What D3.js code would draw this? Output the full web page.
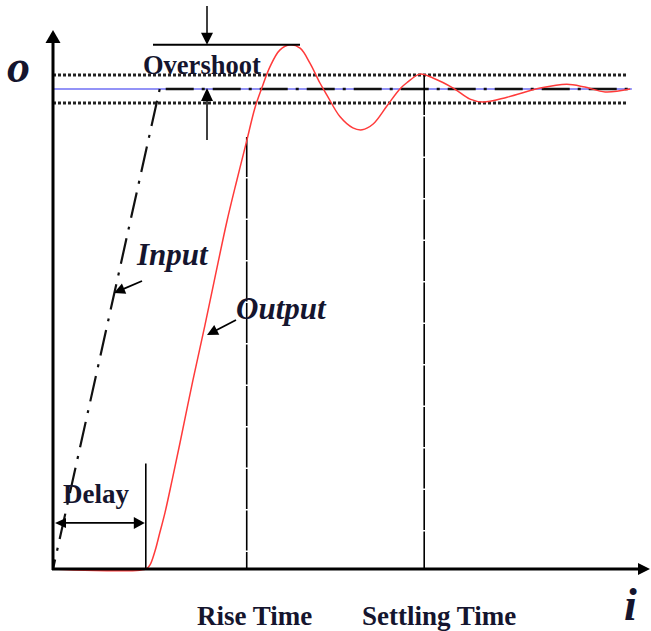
<!DOCTYPE html>
<html>
<head>
<meta charset="utf-8">
<script src="https://cdn.jsdelivr.net/npm/d3@7"></script>
<style>
  html, body { margin: 0; padding: 0; background: #ffffff; }
  svg { display: block; }
  .lbl { font-family: "Liberation Serif", "Times New Roman", serif; font-weight: bold; fill: #15152e; }
  .it { font-style: italic; }
</style>
</head>
<body>
<svg id="chart" width="651" height="631"></svg>
<script>
// Step response: time (arbitrary units) and normalised output value
const outputTime  = [0, 1.60, 1.67, 1.76, 1.84, 1.93, 2.05, 2.19, 2.41, 2.62, 2.79, 3.00, 3.17, 3.34, 3.48, 3.60, 3.74, 3.91, 4.09, 4.26, 4.43, 4.60, 4.72, 4.95, 5.17, 5.33, 5.52, 5.76, 5.98, 6.10, 6.33, 6.55, 6.90, 7.19, 7.41, 7.83, 8.40, 8.86, 9.17, 9.52, 9.95];
const outputValue = [0, 0, 0.008, 0.038, 0.075, 0.117, 0.183, 0.263, 0.392, 0.508, 0.606, 0.725, 0.810, 0.892, 0.960, 1.002, 1.046, 1.081, 1.092, 1.085, 1.054, 1.013, 0.988, 0.942, 0.919, 0.915, 0.927, 0.965, 1.000, 1.013, 1.031, 1.023, 1.002, 0.979, 0.973, 0.983, 1.002, 1.010, 1.004, 0.994, 1.000];

// Input: ramp to the set point, then held
const inputTime  = [0, 1.84, 9.95];
const inputValue = [0, 1.0, 1.0];

// Set point, tolerance band and timing markers
const setPoint = 1.0;
const bandHalfWidth = 0.029;
const peakValue = 1.092;
const delayTime = 1.60;
const riseTime = 3.34;
const riseLevel = 0.9;
const settlingTime = 6.40;
const timeEnd = 9.98;
const bandEnd = 9.91;

const svg = d3.select("#chart");
const x = d3.scaleLinear().domain([0, 10]).range([53, 633]);
const y = d3.scaleLinear().domain([0, 1]).range([569, 89]);

function arrowHead(g, x1, y1, x2, y2, len, half) {
  const a = Math.atan2(y2 - y1, x2 - x1);
  const bx = x2 - len * Math.cos(a), by = y2 - len * Math.sin(a);
  const px = -Math.sin(a) * half, py = Math.cos(a) * half;
  g.append("path")
    .attr("d", `M${x2},${y2}L${bx + px},${by + py}L${bx - px},${by - py}Z`)
    .attr("fill", "#000");
}
function arrow(g, x1, y1, x2, y2, w, len, half) {
  const a = Math.atan2(y2 - y1, x2 - x1);
  g.append("line")
    .attr("x1", x1).attr("y1", y1)
    .attr("x2", x2 - len * 0.6 * Math.cos(a)).attr("y2", y2 - len * 0.6 * Math.sin(a))
    .attr("stroke", "#000").attr("stroke-width", w);
  arrowHead(g, x1, y1, x2, y2, len, half);
}

const g = svg.append("g");

// Tolerance band (dotted)
[setPoint + bandHalfWidth, setPoint - bandHalfWidth].forEach(v => {
  g.append("line")
    .attr("x1", x(0)).attr("x2", x(bandEnd))
    .attr("y1", y(v)).attr("y2", y(v))
    .attr("stroke", "#222").attr("stroke-width", 3)
    .attr("stroke-dasharray", "3,2");
});

// Set point (blue)
g.append("line")
  .attr("x1", x(0)).attr("x2", x(timeEnd))
  .attr("y1", y(setPoint)).attr("y2", y(setPoint))
  .attr("stroke", "#6f6ff5").attr("stroke-width", 1.6);

// Input: dash-dot ramp and hold
g.append("line")
  .attr("x1", x(inputTime[1])).attr("y1", y(inputValue[1]))
  .attr("x2", x(inputTime[0])).attr("y2", y(inputValue[0]))
  .attr("stroke", "#111").attr("stroke-width", 2.2)
  .attr("stroke-dasharray", "3,9,26,9");
g.append("line")
  .attr("x1", x(inputTime[1]) + 6).attr("y1", y(inputValue[1]))
  .attr("x2", x(inputTime[2])).attr("y2", y(inputValue[2]))
  .attr("stroke", "#111").attr("stroke-width", 2.6)
  .attr("stroke-dasharray", "28,8,3,8");

// Timing markers
g.append("line")
  .attr("x1", x(riseTime)).attr("x2", x(riseTime))
  .attr("y1", y(riseLevel)).attr("y2", y(0))
  .attr("stroke", "#000").attr("stroke-width", 1.6)
  .attr("stroke-dasharray", "40,1.5");
g.append("line")
  .attr("x1", x(settlingTime)).attr("x2", x(settlingTime))
  .attr("y1", y(setPoint + bandHalfWidth)).attr("y2", y(0))
  .attr("stroke", "#000").attr("stroke-width", 1.6)
  .attr("stroke-dasharray", "40,1.5");
g.append("line")
  .attr("x1", x(delayTime)).attr("x2", x(delayTime))
  .attr("y1", y(0.22)).attr("y2", y(0))
  .attr("stroke", "#000").attr("stroke-width", 1.6);

// Output response (red)
const pts = outputTime.map((t, i) => [t, outputValue[i]]);
g.append("path")
  .datum(pts)
  .attr("fill", "none")
  .attr("stroke", "#ff3a3a")
  .attr("stroke-width", 1.5)
  .attr("d", d3.line().x(d => x(d[0])).y(d => y(d[1])).curve(d3.curveCatmullRom.alpha(0.5)));

// Axes
g.append("line").attr("x1", 53).attr("x2", 53).attr("y1", 40).attr("y2", 570)
  .attr("stroke", "#000").attr("stroke-width", 3);
arrowHead(g, 53, 60, 53, 30, 13, 7.5);
g.append("line").attr("x1", 52).attr("x2", 642).attr("y1", 569).attr("y2", 569)
  .attr("stroke", "#000").attr("stroke-width", 3.2);
arrowHead(g, 620, 569, 650, 569, 12, 6);

// Overshoot annotation
const ovX = 207;
g.append("line").attr("x1", 153).attr("x2", 300).attr("y1", y(peakValue)).attr("y2", y(peakValue))
  .attr("stroke", "#000").attr("stroke-width", 2);
arrow(g, ovX, 6, ovX, y(peakValue), 1.5, 12, 6);
arrow(g, ovX, 140, ovX, y(setPoint) - 1, 1.5, 13, 6);

// Delay annotation
const dY = y(0.096);
g.append("line").attr("x1", 62).attr("x2", x(delayTime) - 8).attr("y1", dY).attr("y2", dY)
  .attr("stroke", "#000").attr("stroke-width", 1.8);
arrowHead(g, 80, dY, 55, dY, 11, 5);
arrowHead(g, 120, dY, x(delayTime) - 1, dY, 11, 6);

// Input / Output pointers
arrow(g, 142, 281, 114, 293, 1.8, 11, 5.5);
arrow(g, 236, 320, 207, 335, 1.8, 11, 5.5);

// Text labels
const txt = (s, tx, ty, size, italic) =>
  svg.append("text").attr("class", "lbl" + (italic ? " it" : ""))
    .attr("x", tx).attr("y", ty).attr("font-size", size).text(s);
txt("o", 7, 82, 46, true);
txt("i", 624, 620, 46, true);
txt("Overshoot", 143, 74, 26.5);
txt("Delay", 63, 503, 27);
txt("Rise Time", 197, 625, 27);
txt("Settling Time", 362, 625, 27);
txt("Input", 137, 265, 31, true);
txt("Output", 236, 319, 31, true);
</script>
</body>
</html>
